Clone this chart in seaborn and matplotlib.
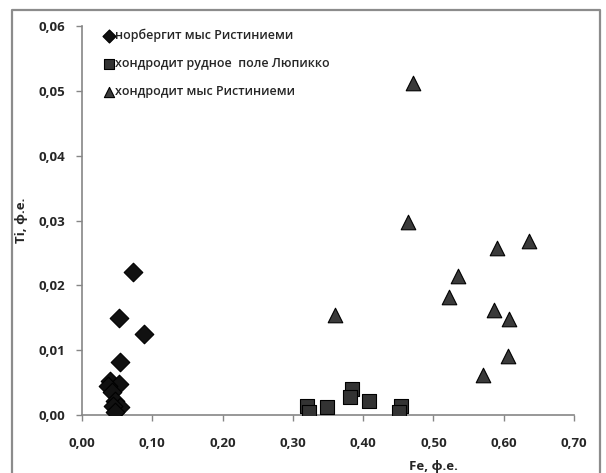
import pandas as pd
import matplotlib.pyplot as plt
import seaborn as sns
from matplotlib.lines import Line2D

# --- Data ---
norb_fe = [0.072, 0.053, 0.088, 0.054, 0.040, 0.052, 0.037, 0.042, 0.047, 0.054, 0.044, 0.047]
norb_ti = [0.0220, 0.0150, 0.0125, 0.0082, 0.0053, 0.0048, 0.0045, 0.0035, 0.0022, 0.0012, 0.0014, 0.0005]

hlup_fe = [0.320, 0.323, 0.349, 0.384, 0.381, 0.408, 0.454, 0.451]
hlup_ti = [0.0014, 0.0005, 0.0012, 0.0040, 0.0028, 0.0021, 0.0014, 0.0005]

hris_fe = [0.471, 0.464, 0.590, 0.636, 0.535, 0.522, 0.586, 0.607, 0.360, 0.606, 0.570]
hris_ti = [0.0512, 0.0298, 0.0257, 0.0268, 0.0215, 0.0182, 0.0162, 0.0148, 0.0154, 0.0091, 0.0062]

series = ["норбергит мыс Ристиниеми",
          "хондродит рудное  поле Люпикко",
          "хондродит мыс Ристиниеми"]

x_ticks = [0.0, 0.1, 0.2, 0.3, 0.4, 0.5, 0.6, 0.7]
y_ticks = [0.0, 0.01, 0.02, 0.03, 0.04, 0.05, 0.06]

df = pd.DataFrame({
    "Fe": norb_fe + hlup_fe + hris_fe,
    "Ti": norb_ti + hlup_ti + hris_ti,
    "series": [series[0]] * len(norb_fe) + [series[1]] * len(hlup_fe) + [series[2]] * len(hris_fe),
})

# --- Plot ---
sns.set_style("white")
plt.rcParams['font.family'] = ['Open Sans', 'DejaVu Sans']

fig = plt.figure(figsize=(6.06, 4.73), dpi=100)
ax = fig.add_axes([82 / 606, 1 - 415 / 473, 492 / 606, 389 / 473])

# outer frame: top, left and right edges only (open at the bottom)
frame_x = [12 / 606, 12 / 606, 600 / 606, 600 / 606]
frame_y = [0, 1 - 10 / 473, 1 - 10 / 473, 0]
fig.add_artist(Line2D(frame_x, frame_y, transform=fig.transFigure, color="#8c8c8c", linewidth=1.6))

palette = {series[0]: "#111111", series[1]: "#333333", series[2]: "#3a3a3a"}
markers = {series[0]: "D", series[1]: "s", series[2]: "^"}
sizes = {series[0]: 90, series[1]: 95, series[2]: 110}

for name in series:
    sub = df[df["series"] == name]
    sns.scatterplot(data=sub, x="Fe", y="Ti", color=palette[name], marker=markers[name],
                    s=sizes[name], edgecolor="#000000", linewidth=0.8, label=name, ax=ax, zorder=3)

ax.set_xlim(0, 0.7)
ax.set_ylim(0, 0.06)
ax.set_xticks(x_ticks)
ax.set_yticks(y_ticks)
ax.set_xticklabels([f"{v:.2f}".replace(".", ",") for v in x_ticks], fontsize=9.5, fontweight="bold")
ax.set_yticklabels([f"{v:.2f}".replace(".", ",") for v in y_ticks], fontsize=9.5, fontweight="bold")

for side in ["top", "right"]:
    ax.spines[side].set_visible(False)
for side in ["left", "bottom"]:
    ax.spines[side].set_color("#868686")
    ax.spines[side].set_linewidth(1.2)
ax.tick_params(axis="both", direction="out", length=4, color="#868686", width=1,
               left=True, bottom=True)
ax.tick_params(axis="x", pad=12)
ax.tick_params(axis="y", pad=8)

ax.set_xlabel("Fe, ф.е.", fontsize=9.5, fontweight="bold")
ax.xaxis.set_label_coords(0.715, -0.115)
ax.set_ylabel("Ti, ф.е.", fontsize=9.5, fontweight="bold")
ax.yaxis.set_label_coords(-0.11, 0.5)

leg = ax.legend(loc="upper left", bbox_to_anchor=(0.035, 1.005), frameon=False, fontsize=9,
                handletextpad=0.1, labelspacing=1.2, handlelength=0.8, markerscale=0.7,
                borderaxespad=0)
for t in leg.get_texts():
    t.set_fontweight("semibold")

fig.savefig("out.png", dpi=100)
